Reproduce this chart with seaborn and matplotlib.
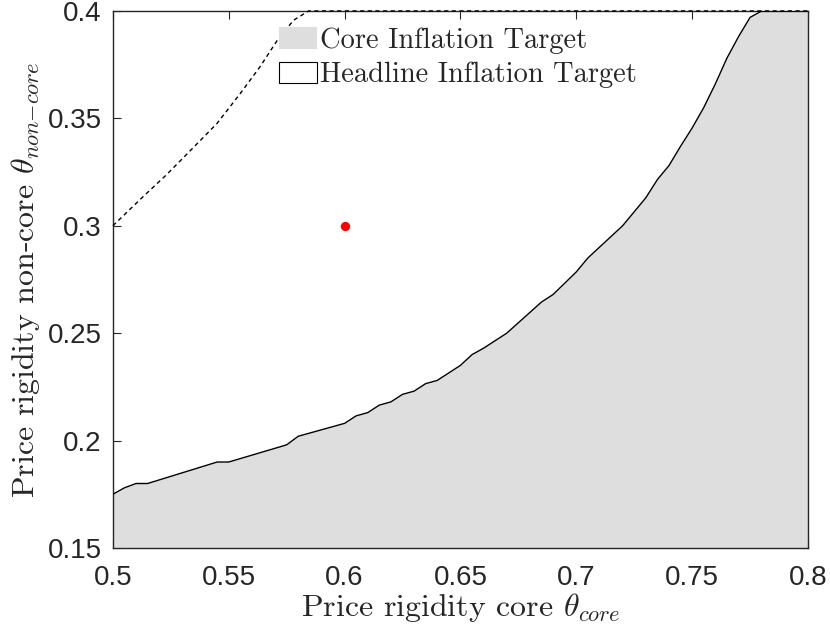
import numpy as np
import pandas as pd
import seaborn as sns
import matplotlib.pyplot as plt
from matplotlib.patches import Patch

# frontier where core inflation target is preferred (solid, shaded below)
core_theta = [0.5, 0.505, 0.51, 0.515, 0.545, 0.55, 0.575, 0.58, 0.6, 0.605,
              0.61, 0.615, 0.62, 0.625, 0.63, 0.635, 0.64, 0.65, 0.655, 0.66,
              0.67, 0.685, 0.69, 0.7, 0.705, 0.72, 0.73, 0.735, 0.74, 0.745,
              0.75, 0.755, 0.76, 0.765, 0.77, 0.775, 0.78, 0.8]
core_bound = [0.175, 0.178, 0.18, 0.18, 0.19, 0.19, 0.198, 0.202, 0.208, 0.2115,
              0.213, 0.2165, 0.218, 0.2215, 0.223, 0.2265, 0.228, 0.235, 0.24, 0.243,
              0.25, 0.2645, 0.268, 0.2785, 0.285, 0.3, 0.313, 0.3215, 0.328, 0.337,
              0.3455, 0.355, 0.366, 0.378, 0.388, 0.397, 0.4, 0.4]

# headline inflation target frontier (dashed)
head_theta = [0.5, 0.513, 0.523, 0.533, 0.545, 0.555, 0.5635, 0.571, 0.578, 0.5845, 0.8]
head_bound = [0.3, 0.3135, 0.3236, 0.3345, 0.3477, 0.3616, 0.374, 0.3864, 0.3957, 0.4, 0.4]

# baseline calibration
base_core = [0.6]
base_noncore = [0.3]

xticks = [0.5, 0.55, 0.6, 0.65, 0.7, 0.75, 0.8]
yticks = [0.15, 0.2, 0.25, 0.3, 0.35, 0.4]

sns.set_style("ticks")
plt.rcParams['font.family'] = ['Liberation Sans', 'DejaVu Sans']
plt.rcParams['mathtext.fontset'] = 'cm'

core_df = pd.DataFrame({"x": core_theta, "y": core_bound})
head_df = pd.DataFrame({"x": head_theta, "y": head_bound})

fig = plt.figure(figsize=(8.3, 6.32), dpi=100)
ax = fig.add_axes([0.136, 0.133, 0.8375, 0.8497])

ax.fill_between(core_df["x"], 0.15, core_df["y"], color="#dedede", linewidth=0, zorder=1)
sns.lineplot(data=core_df, x="x", y="y", color="black", linewidth=1.0, ax=ax,
             sort=False, zorder=3)
sns.lineplot(data=head_df, x="x", y="y", color="black", linewidth=1.0, ax=ax,
             sort=False, zorder=3, dashes=False)
ax.lines[-1].set_linestyle((0, (3, 2.5)))
ax.lines[-1].set_clip_on(False)
sns.scatterplot(x=base_core, y=base_noncore, color="red", s=45, edgecolor="red",
                linewidth=0, ax=ax, zorder=4)

ax.set_xlim(0.5, 0.8)
ax.set_ylim(0.15, 0.4)
ax.set_xticks(xticks)
ax.set_yticks(yticks)
ax.set_xticklabels([f"{v:g}" for v in xticks])
ax.set_yticklabels([f"{v:g}" for v in yticks])
ax.tick_params(direction="in", length=6, width=0.8, labelsize=20, colors="#262626",
               top=True, right=True)
ax.tick_params(axis="x", pad=12)
ax.tick_params(axis="y", pad=8)
for s in ax.spines.values():
    s.set_linewidth(1.0)
    s.set_color("#262626")

serif = ['cmr10', 'DejaVu Serif']
ax.set_xlabel(r"Price rigidity core $\theta_{core}$", fontsize=23, family=serif, labelpad=0)
ax.set_ylabel(r"Price rigidity non-core $\theta_{non{-}core}$", fontsize=23, family=serif,
              labelpad=4)

handles = [Patch(facecolor="#dedede", edgecolor="none"),
           Patch(facecolor="white", edgecolor="black", linewidth=0.8)]
ax.legend(handles, ["Core Inflation Target", "Headline Inflation Target"],
          loc="upper left", bbox_to_anchor=(0.239, 0.97), frameon=False,
          prop={"family": serif, "size": 20.5}, handlelength=1.33, handleheight=0.8,
          handletextpad=0.1, labelspacing=0.27, borderaxespad=0, borderpad=0)

fig.savefig("out.png", dpi=100)
